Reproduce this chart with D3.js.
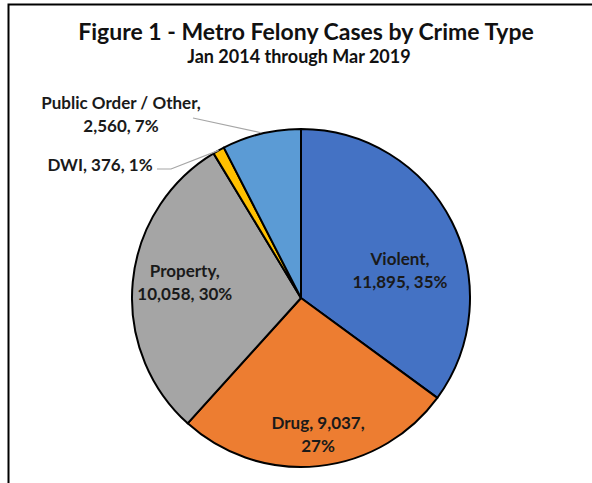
<!DOCTYPE html>
<html>
<head>
<meta charset="utf-8">
<script src="https://cdn.jsdelivr.net/npm/d3@7"></script>
<style>
  body { margin: 0; background: #fff; }
  text { font-family: Lato, "Open Sans", sans-serif; font-weight: bold; }
</style>
</head>
<body>
<svg id="chart" width="592" height="483"></svg>
<script>
var WIDTH = 592;
var HEIGHT = 483;

// Data
var categories = ['Violent', 'Drug', 'Property', 'DWI', 'Public Order / Other'];
var caseCounts = [11895, 9037, 10058, 376, 2560];
var percentLabels = ['35%', '27%', '30%', '1%', '7%'];
var sliceColors = ['#4472C4', '#ED7D31', '#A5A5A5', '#FFC000', '#5B9BD5'];

// Pie geometry
var CX = 301;
var CY = 298;
var RADIUS = 169;

var LABEL_SIZE = 17;
var LINE_H = 23;

var svg = d3.select('#chart');

// frame (only the top and left edges show in the original)
svg.append('path')
  .attr('d', 'M8.5,' + HEIGHT + ' L8.5,4.5 L' + WIDTH + ',4.5')
  .attr('fill', 'none')
  .attr('stroke', '#000')
  .attr('stroke-width', 2);

svg.append('text')
  .attr('x', 306)
  .attr('y', 40)
  .attr('text-anchor', 'middle')
  .attr('font-size', 23)
  .attr('fill', '#111')
  .text('Figure 1 - Metro Felony Cases by Crime Type');

svg.append('text')
  .attr('x', 299)
  .attr('y', 63)
  .attr('text-anchor', 'middle')
  .attr('font-size', 18)
  .attr('fill', '#111')
  .text('Jan 2014 through Mar 2019');

var data = categories.map(function(c, i) {
  return { name: c, value: caseCounts[i], pct: percentLabels[i], color: sliceColors[i] };
});

var pie = d3.pie()
  .sort(null)
  .value(function(d) { return d.value; });

var arcs = pie(data);

var arc = d3.arc()
  .innerRadius(0)
  .outerRadius(RADIUS);

var g = svg.append('g')
  .attr('transform', 'translate(' + CX + ',' + CY + ')');

g.selectAll('path.slice')
  .data(arcs)
  .enter()
  .append('path')
    .attr('class', 'slice')
    .attr('d', arc)
    .attr('fill', function(d) { return d.data.color; })
    .attr('stroke', '#000')
    .attr('stroke-width', 2)
    .attr('stroke-linejoin', 'round');

var fmt = d3.format(',');

function polar(angle, r) {
  return [Math.sin(angle) * r, -Math.cos(angle) * r];
}

function midAngle(d) {
  return (d.startAngle + d.endAngle) / 2;
}

function labelLines(d) {
  var v = fmt(d.data.value);
  var p = d.data.pct;
  switch (d.data.name) {
    case 'Violent': return ['Violent,', v + ', ' + p];
    case 'Drug': return ['Drug, ' + v + ',', p];
    case 'Property': return ['Property,', v + ', ' + p];
    case 'DWI': return ['DWI, ' + v + ', ' + p];
    default: return [d.data.name + ',', v + ', ' + p];
  }
}

function addLabel(x, y, lines) {
  var t = g.append('text')
    .attr('text-anchor', 'middle')
    .attr('font-size', LABEL_SIZE)
    .attr('fill', '#1a1a1a');
  lines.forEach(function(s, i) {
    t.append('tspan')
      .attr('x', x)
      .attr('y', y + (i - (lines.length - 1) / 2) * LINE_H)
      .text(s);
  });
}

// inside labels, Excel "best fit" look: angle shift (deg) and radius fraction
var insideShift = { 'Violent': [14.4, 0.60], 'Drug': [-1, 0.85], 'Property': [-0.8, 0.69] };

arcs.forEach(function(d) {
  var s = insideShift[d.data.name];
  if (!s) return;
  var p = polar(midAngle(d) + s[0] * Math.PI / 180, RADIUS * s[1]);
  addLabel(p[0], p[1], labelLines(d));
});

// outside labels with leader lines
var dwi = arcs[3];
var pub = arcs[4];

var dwiEdge = polar(midAngle(dwi), RADIUS);
var pubEdge = polar(midAngle(pub), RADIUS + 1);

g.append('polyline')
  .attr('points', [[-144, -129], [-130, -129], dwiEdge].join(' '))
  .attr('fill', 'none')
  .attr('stroke', '#a6a6a6')
  .attr('stroke-width', 1.2);

g.append('polyline')
  .attr('points', [[-108, -180], pubEdge].join(' '))
  .attr('fill', 'none')
  .attr('stroke', '#a6a6a6')
  .attr('stroke-width', 1.2);

addLabel(-201, -127, labelLines(dwi));
addLabel(-180, -177.5, labelLines(pub));
</script>
</body>
</html>
